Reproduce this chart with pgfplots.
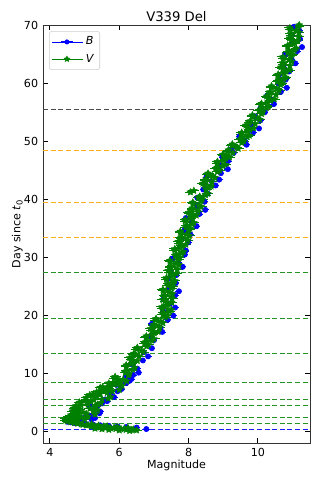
\documentclass[border=0pt]{standalone}
\usepackage{fontspec}
\setmainfont{DejaVu Sans}
\usepackage{pgfplots}
\pgfplotsset{compat=1.18}
\definecolor{bblue}{HTML}{0000FF}
\definecolor{vgreen}{HTML}{008000}
\definecolor{lorange}{HTML}{FFA500}

% filled five-pointed star, like matplotlib's '*'
\pgfdeclareplotmark{fstar}{%
  \pgfpathmoveto{\pgfpointpolar{90}{\pgfplotmarksize}}%
  \pgfpathlineto{\pgfpointpolar{126}{0.5\pgfplotmarksize}}%
  \pgfpathlineto{\pgfpointpolar{162}{\pgfplotmarksize}}%
  \pgfpathlineto{\pgfpointpolar{198}{0.5\pgfplotmarksize}}%
  \pgfpathlineto{\pgfpointpolar{234}{\pgfplotmarksize}}%
  \pgfpathlineto{\pgfpointpolar{270}{0.5\pgfplotmarksize}}%
  \pgfpathlineto{\pgfpointpolar{306}{\pgfplotmarksize}}%
  \pgfpathlineto{\pgfpointpolar{342}{0.5\pgfplotmarksize}}%
  \pgfpathlineto{\pgfpointpolar{18}{\pgfplotmarksize}}%
  \pgfpathlineto{\pgfpointpolar{54}{0.5\pgfplotmarksize}}%
  \pgfpathclose
  \pgfusepathqfillstroke}

\begin{document}
\begin{tikzpicture}
\begin{axis}[
  at={(0,0)}, anchor=south west,
  scale only axis, width=192.24pt, height=300.96pt,
  xmin=3.8, xmax=11.5, ymin=-1.9, ymax=70,
  xtick={4,6,8,10}, ytick={0,10,...,70},
  xtick pos=both, ytick pos=both,
  xticklabel pos=bottom, yticklabel pos=left,
  tick align=inside, major tick length=3.5pt,
  tick style={black, line width=0.7pt},
  axis line style={black!80, line width=0.6pt},
  /pgf/number format/assume math mode=true,
  ticklabel style={font=\fontsize{8}{9}\selectfont},
  label style={font=\fontsize{8}{9}\selectfont},
  xlabel={Magnitude}, ylabel={Day since \textit{t}\textsubscript{0}},
  xlabel style={yshift=4.5pt}, ylabel style={yshift=-6pt},
  title={V339 Del},
  title style={font=\fontsize{9.5}{11}\selectfont, yshift=-7pt},
  legend style={at={(0.0225,0.9856)}, anchor=north west,
    draw=black!20, rounded corners=2pt,
    font=\fontsize{8}{9}\selectfont, inner xsep=2pt, inner ysep=2pt,
    row sep=1pt},
  legend cell align=left,
]
% phase markers
\addplot[bblue!90!white, line width=0.7pt, dash pattern=on 3.6pt off 1.9pt, forget plot]
  coordinates {(3.8,0.5) (11.5,0.5)};
\pgfplotsinvokeforeach{1.5,2.5,4.5,5.5,8.5,13.5,19.5,27.5}{
\addplot[vgreen!85!white, line width=0.7pt, dash pattern=on 3.6pt off 1.9pt, forget plot]
  coordinates {(3.8,#1) (11.5,#1)};}
\pgfplotsinvokeforeach{33.5,39.5,48.5}{
\addplot[lorange!90!white, line width=0.7pt, dash pattern=on 3.6pt off 1.9pt, forget plot]
  coordinates {(3.8,#1) (11.5,#1)};}
\addplot[black!70, line width=0.7pt, dash pattern=on 3.6pt off 1.9pt, forget plot]
  coordinates {(3.8,55.5) (11.5,55.5)};

\addplot[only marks, mark=*, mark size=1.9pt, color=bblue,
  error bars/.cd, x dir=both, x fixed=0.1, error mark=none,
  error bar style={line width=0.6pt, bblue},
  /pgfplots/legend image code/.code={
    \path (-6pt,0pt) -- (16pt,0pt);
    \draw[bblue, line width=0.7pt] (0pt,0pt) -- (9pt,0pt);
    \fill[bblue] (4.5pt,0pt) circle (1.6pt);}]
coordinates {
(6.78,0.5) (6.5,0.75) (6.2,0.85) (5.95,0.95) (5.7,1.05) (5.45,1.15) (5.25,1.25)
(5.05,1.35) (4.85,1.45) (4.7,1.55) (4.6,1.65) (4.5,1.75) (4.55,1.85) (4.7,1.95)
(4.95,2.05) (5.2,2.15)
(5.3,2.4) (5.15,2.8) (5.45,3.5) (5.35,4.2) (5.5,4.9) (5.6,5.6) (5.75,6.3) (5.95,7.0)
(6.05,7.7) (6.2,8.4) (6.35,9.1) (6.4,9.8)
(5.00,2.5) (5.43,3.2) (5.28,3.9) (5.13,4.6) (5.65,5.3) (5.85,6.0) (5.72,6.7)
(6.07,7.4) (5.92,8.1) (6.30,8.8) (6.22,9.5) (6.56,10.2) (6.52,10.9) (6.38,11.6)
(6.68,12.3) (6.83,13.0) (6.70,13.7) (6.94,14.4) (6.78,15.1) (7.00,15.8) (6.92,16.5)
(7.24,17.2) (7.19,17.9) (6.94,18.6) (7.40,19.3) (7.56,20.0)
(7.28,20.7) (7.61,21.4) (7.47,22.1) (7.27,22.8) (7.61,23.5) (7.72,24.2) (7.45,24.9)
(7.63,25.6) (7.39,26.3) (7.65,27.0) (7.48,27.7) (7.83,28.4) (7.71,29.1) (7.52,29.8)
(7.89,30.5) (7.92,31.2) (7.76,31.9) (7.99,32.6) (7.79,33.3) (8.05,34.0) (7.88,34.7)
(8.23,35.4) (8.11,36.1) (7.92,36.8) (8.31,37.5) (8.48,38.2) (8.25,38.9) (8.46,39.6)
(8.25,40.3) (8.55,41.0) (8.42,41.7) (8.78,42.4) (8.88,43.4) (8.67,43.1) (8.51,43.8)
(8.93,44.5) (9.13,45.2) (8.90,45.9) (9.14,46.6) (8.97,47.3) (9.30,48.0) (9.24,48.7)
(9.67,49.4) (9.62,50.1) (9.46,50.8) (9.86,51.5) (10.03,52.2) (9.80,52.9) (10.07,53.6)
(9.90,54.3) (10.20,55.0) (10.07,55.7) (10.46,56.4) (10.42,57.1) (10.26,57.8) (10.66,58.5)
(10.83,59.2) (10.60,59.9) (10.80,60.6) (10.60,61.3) (10.90,62.0) (10.74,62.7) (11.08,63.4)
(10.97,64.1) (10.77,64.8) (11.13,65.5) (11.27,66.2) (11.01,66.9) (11.21,67.6) (10.97,68.3)
(11.20,69.0) (11.04,69.7)
};
\addlegendentry{\textit{B}}
\addplot[only marks, mark=fstar, mark size=2.6pt, color=vgreen,
  mark options={line width=0.3pt},
  error bars/.cd, x dir=both, x fixed=0.16, error mark=none,
  error bar style={line width=0.7pt, vgreen},
  /pgfplots/legend image code/.code={
    \path (-6pt,0pt) -- (16pt,0pt);
    \draw[vgreen, line width=0.7pt] (0pt,0pt) -- (9pt,0pt);
    \draw[vgreen, line width=0.3pt] plot[mark=fstar, mark size=2.2pt] coordinates {(4.5pt,0pt)};}]
coordinates {
(6.5,0.3) (6.35,0.35) (6.2,0.4) (6.4,0.45) (6.05,0.5) (5.9,0.55) (6.15,0.6) (5.75,0.65)
(5.6,0.7) (5.85,0.75) (5.45,0.8) (5.3,0.9) (5.55,0.95) (5.2,1.05) (5.05,1.15) (4.95,1.25)
(5.2,1.35) (4.8,1.45) (4.7,1.55) (4.6,1.7) (4.5,1.85) (4.45,2.0) (4.5,2.15) (4.45,2.3)
(4.6,2.45) (4.55,2.6) (4.75,2.75)
(6.3,0.2) (6.0,0.3) (5.7,0.4) (5.5,0.5) (5.3,0.6) (6.25,0.7) (5.95,0.85) (5.65,1.0)
(5.4,1.1) (5.1,1.2) (4.9,1.35) (4.75,1.75) (4.65,1.95) (4.8,2.1) (5.0,2.2) (4.7,2.35)
(4.9,2.55) (5.1,2.65)
(4.6,2.9) (5.05,3.1) (4.95,3.4) (4.65,3.6) (5.25,3.65) (4.85,3.9) (4.7,4.1) (5.3,4.35)
(4.9,4.6) (5.1,4.8) (4.85,5.1) (5.0,5.4) (5.5,5.6) (5.05,5.9) (5.35,6.1) (5.15,6.4)
(5.45,6.6) (5.35,6.9) (5.55,7.1) (5.7,7.4) (5.45,7.6) (5.75,7.9) (5.95,8.2) (5.7,8.4)
(6.0,8.7) (5.95,9.1)
(5.30,3.0) (4.77,3.5) (5.15,4.0) (4.75,4.5) (5.47,5.0) (5.27,5.5) (5.75,6.0) (5.25,6.5)
(5.80,7.0) (5.63,7.5) (6.08,8.0) (5.83,8.5) (6.11,9.0) (5.88,9.5) (6.29,10.0) (6.22,10.5)
(6.45,11.0) (6.20,11.5) (6.41,12.0) (6.34,12.5) (6.57,13.0) (6.42,13.5) (6.64,14.0) (6.52,14.5)
(6.84,15.0) (6.77,15.5) (7.00,16.0) (6.78,16.5) (7.01,17.0) (6.94,17.5) (7.17,18.0) (7.00,18.5)
(7.19,19.0) (7.06,19.5) (7.39,20.0) (7.29,20.5) (7.50,21.0) (7.23,21.5) (7.41,22.0) (7.32,22.5)
(7.52,23.0) (7.30,23.5) (7.44,24.0) (7.26,24.5) (7.54,25.0) (7.42,25.5) (7.60,26.0) (7.36,26.5)
(7.56,27.0) (7.46,27.5) (7.67,28.0) (7.48,28.5) (7.64,29.0) (7.46,29.5) (7.74,30.0) (7.65,30.5)
(7.85,31.0) (7.60,31.5) (7.81,32.0) (7.74,32.5) (7.97,33.0) (7.78,33.5) (7.94,34.0) (7.76,34.5)
(8.04,35.0) (7.95,35.5) (8.15,36.0) (7.90,36.5) (8.11,37.0) (8.04,37.5) (8.27,38.0) (8.10,38.5)
(8.29,39.0) (8.12,39.5) (8.39,40.0) (8.32,40.5) (8.55,41.0) (8.15,41.5) (8.56,42.0) (8.46,42.5)
(8.67,43.0) (8.50,43.5) (8.69,44.0) (8.56,44.5) (8.89,45.0) (8.82,45.5) (9.05,46.0) (8.83,46.5)
(9.06,47.0) (9.02,47.5) (9.27,48.0) (9.15,48.5) (9.39,49.0) (9.26,49.5) (9.59,50.0) (9.52,50.5)
(9.75,51.0) (9.53,51.5) (9.76,52.0) (9.69,52.5) (9.92,53.0) (9.78,53.5) (9.99,54.0) (9.84,54.5)
(10.14,55.0) (10.07,55.5) (10.30,56.0) (10.10,56.5) (10.36,57.0) (10.29,57.5) (10.52,58.0) (10.35,58.5)
(10.54,59.0) (10.39,59.5) (10.69,60.0) (10.59,60.5) (10.80,61.0) (10.58,61.5) (10.81,62.0) (10.72,62.5)
(10.92,63.0) (10.72,63.5) (10.89,64.0) (10.72,64.5) (10.99,65.0) (10.89,65.5) (11.10,66.0) (10.86,66.5)
(11.06,67.0) (10.96,67.5) (11.17,68.0) (10.95,68.5) (11.09,69.0) (10.92,69.5) (11.19,70.0)
(4.81,3.25) (5.37,3.75) (4.75,4.25) (5.38,4.75) (5.18,5.25) (5.68,5.75) (5.22,6.25) (5.65,6.75)
(6.00,7.25) (5.52,7.75) (5.82,8.25) (6.21,8.75) (5.87,9.25) (6.26,9.75) (6.17,10.25) (6.39,10.75)
(6.20,11.25) (6.36,11.75) (6.52,12.25) (6.30,12.75) (6.41,13.25) (6.69,13.75) (6.50,14.25) (6.79,14.75)
(6.73,15.25) (6.94,15.75) (6.77,16.25) (6.95,16.75) (7.12,17.25) (6.90,17.75) (7.00,18.25) (7.26,18.75)
(7.05,19.25) (7.33,19.75) (7.26,20.25) (7.45,20.75) (7.24,21.25) (7.37,21.75) (7.51,22.25) (7.26,22.75)
(7.32,23.25) (7.53,23.75) (7.27,24.25) (7.51,24.75) (7.40,25.25) (7.56,25.75) (7.36,26.25) (7.51,26.75)
(7.65,27.25) (7.41,27.75) (7.49,28.25) (7.72,28.75) (7.47,29.25) (7.71,29.75) (7.62,30.25) (7.80,30.75)
(7.60,31.25) (7.76,31.75) (7.92,32.25) (7.70,32.75) (7.79,33.25) (8.02,33.75) (7.77,34.25) (8.01,34.75)
(7.92,35.25) (8.10,35.75) (7.90,36.25) (8.06,36.75) (8.22,37.25) (8.00,37.75) (8.10,38.25) (8.36,38.75)
(8.13,39.25) (8.36,39.75) (8.28,40.25) (8.49,40.75) (8.05,41.25) (8.50,41.75) (8.65,42.25) (8.41,42.75)
(8.50,43.25) (8.76,43.75) (8.55,44.25) (8.83,44.75) (8.78,45.25) (8.99,45.75) (8.82,46.25) (9.00,46.75)
(9.18,47.25) (8.99,47.75) (9.12,48.25) (9.43,48.75) (9.25,49.25) (9.53,49.75) (9.48,50.25) (9.69,50.75)
(9.52,51.25) (9.70,51.75) (9.87,52.25) (9.65,52.75) (9.76,53.25) (10.05,53.75) (9.84,54.25) (10.10,54.75)
(10.03,55.25) (10.24,55.75) (10.08,56.25) (10.28,56.75) (10.47,57.25) (10.25,57.75) (10.35,58.25) (10.61,58.75)
(10.39,59.25) (10.65,59.75) (10.56,60.25) (10.75,60.75) (10.57,61.25) (10.75,61.75) (10.91,62.25) (10.66,62.75)
(10.73,63.25) (10.97,63.75) (10.73,64.25) (10.96,64.75) (10.86,65.25) (11.05,65.75) (10.86,66.25) (11.01,66.75)
(11.15,67.25) (10.91,67.75) (10.97,68.25) (11.18,68.75) (10.93,69.25) (11.16,69.75)
};
\addlegendentry{\textit{V}}
\end{axis}
\pgfresetboundingbox
\useasboundingbox (-30.96pt,-28.8pt) rectangle (200.88pt,318.96pt);
\end{tikzpicture}
\end{document}
